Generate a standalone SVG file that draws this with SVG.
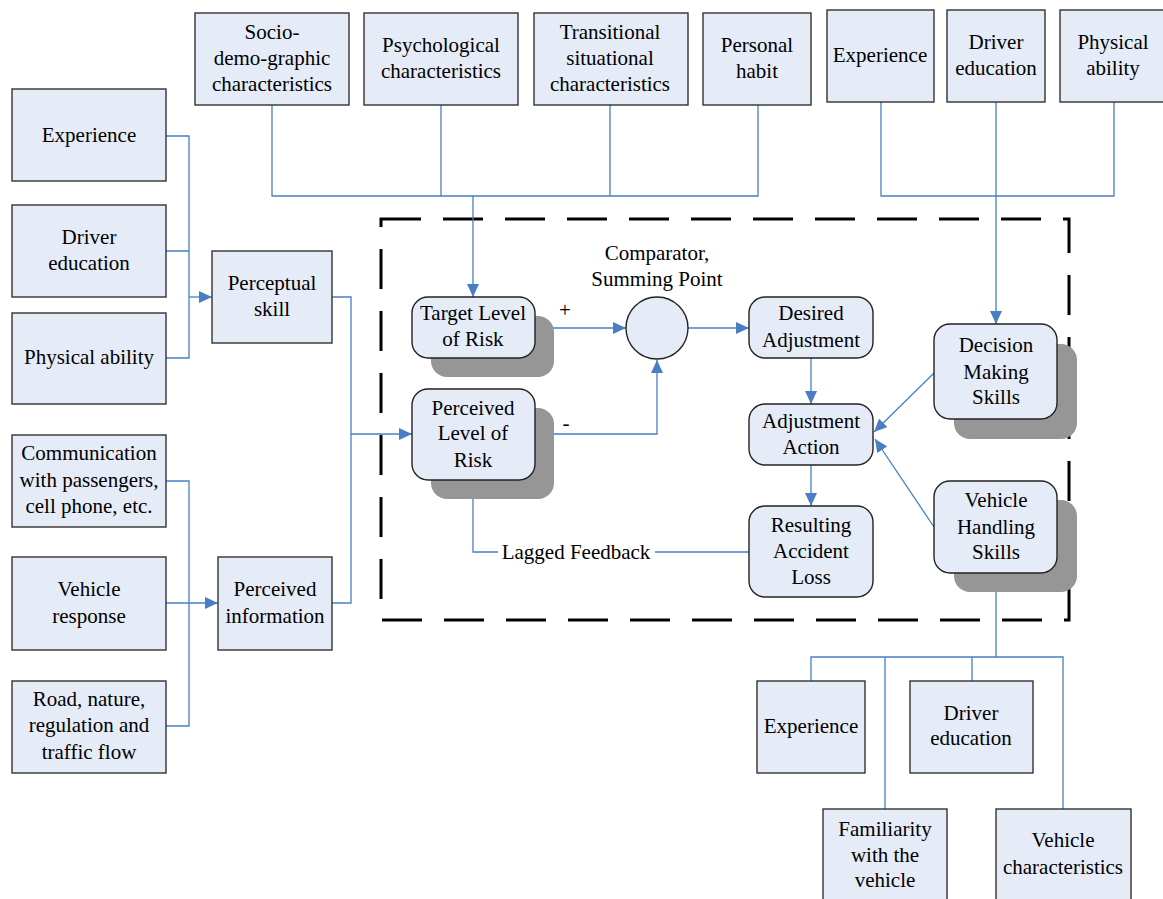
<svg xmlns="http://www.w3.org/2000/svg" width="1163" height="899" viewBox="0 0 1163 899" font-family="Liberation Serif, Times New Roman, serif">
<style>
text{font-size:21px;fill:#000;text-anchor:middle}
.box{fill:#E6ECF7;stroke:#333;stroke-width:1.4}
.rbox{fill:#E6ECF7;stroke:#222;stroke-width:1.4}
.sh{fill:#969696}
.c{fill:none;stroke:#4A7EC4;stroke-width:1.3}
.ca{fill:none;stroke:#4A7EC4;stroke-width:1.3;marker-end:url(#ah)}
.dash{fill:none;stroke:#000;stroke-width:3;stroke-dasharray:40 22}
</style>
<defs>
<marker id="ah" markerUnits="userSpaceOnUse" markerWidth="14" markerHeight="12" refX="13" refY="6" orient="auto">
<path d="M0,0 L13,6 L0,12 z" fill="#4A7EC4"/>
</marker>
</defs>
<rect x="0" y="0" width="1163" height="899" fill="#fff"/>

<rect class="dash" x="381" y="219" width="688" height="401"/>

<g id="connectors">
<path class="c" d="M272,105 V196 H758 V105 M441,105 V196 M610,105 V196"/>
<path class="ca" d="M473,196 V297"/>
<path class="c" d="M881,102 V196 H1114 V102"/>
<path class="ca" d="M996,102 V324"/>
<path class="c" d="M166,136 H189 V358 H166 M166,251 H189"/>
<path class="ca" d="M189,297 H212"/>
<path class="c" d="M166,481 H189 V726 H166"/>
<path class="ca" d="M166,603 H218"/>
<path class="c" d="M332,297 H351 V603 H332"/>
<path class="ca" d="M351,434 H412"/>
<path class="ca" d="M535,328 H626"/>
<path class="ca" d="M535,434 H657 V360"/>
<path class="ca" d="M688,328 H749"/>
<path class="ca" d="M811,358 V404"/>
<path class="ca" d="M811,465 V506"/>
<path class="c" d="M749,552 H655"/>
<path class="ca" d="M498,552 H473 V481"/>
<path class="ca" d="M934,373 L874,432"/>
<path class="ca" d="M934,527 L875,439"/>
<path class="ca" d="M996,657 V574"/>
<path class="c" d="M811,681 V657 H1063 V809 M972,657 V681 M885,657 V809"/>
<text x="565" y="317">+</text>
<text x="566" y="430">-</text>
<text x="576" y="559">Lagged Feedback</text>
</g>

<g id="socio"><rect class="box" x="195" y="13" width="154" height="92"/><text x="272" y="39">Socio-</text><text x="272" y="65">demo-graphic</text><text x="272" y="91">characteristics</text></g>
<g id="psych"><rect class="box" x="364" y="13" width="154" height="92"/><text x="441" y="52">Psychological</text><text x="441" y="78">characteristics</text></g>
<g id="trans"><rect class="box" x="534" y="13" width="154" height="92"/><text x="610" y="39">Transitional</text><text x="610" y="65">situational</text><text x="610" y="91">characteristics</text></g>
<g id="habit"><rect class="box" x="703" y="13" width="108" height="92"/><text x="757" y="52">Personal</text><text x="757" y="78">habit</text></g>

<g id="exp-top"><rect class="box" x="827" y="10" width="107" height="92"/><text x="880" y="62">Experience</text></g>
<g id="edu-top"><rect class="box" x="947" y="10" width="98" height="92"/><text x="996" y="49">Driver</text><text x="996" y="75">education</text></g>
<g id="phys-top"><rect class="box" x="1060" y="10" width="110" height="92"/><text x="1113" y="49">Physical</text><text x="1113" y="75">ability</text></g>

<g id="exp-left"><rect class="box" x="12" y="89" width="154" height="92"/><text x="89" y="142">Experience</text></g>
<g id="edu-left"><rect class="box" x="12" y="205" width="154" height="92"/><text x="89" y="244">Driver</text><text x="89" y="270">education</text></g>
<g id="phys-left"><rect class="box" x="12" y="313" width="154" height="91"/><text x="89" y="364">Physical ability</text></g>
<g id="perceptual"><rect class="box" x="212" y="251" width="120" height="92"/><text x="272" y="290">Perceptual</text><text x="272" y="316">skill</text></g>

<g id="comm"><rect class="box" x="12" y="435" width="154" height="92"/><text x="89" y="460">Communication</text><text x="89" y="487">with passengers,</text><text x="89" y="513">cell phone, etc.</text></g>
<g id="vresp"><rect class="box" x="12" y="557" width="154" height="93"/><text x="89" y="596">Vehicle</text><text x="89" y="623">response</text></g>
<g id="road"><rect class="box" x="12" y="681" width="154" height="92"/><text x="89" y="706">Road, nature,</text><text x="89" y="732">regulation and</text><text x="89" y="759">traffic flow</text></g>
<g id="perc-info"><rect class="box" x="218" y="557" width="114" height="93"/><text x="275" y="596">Perceived</text><text x="275" y="623">information</text></g>

<g id="target"><rect class="sh" x="431" y="316" width="123" height="61" rx="16"/><rect class="rbox" x="412" y="297" width="123" height="61" rx="16"/><text x="473" y="320">Target Level</text><text x="473" y="346">of Risk</text></g>
<g id="perceived-risk"><rect class="sh" x="431" y="408" width="123" height="91" rx="16"/><rect class="rbox" x="412" y="389" width="123" height="91" rx="16"/><text x="473" y="415">Perceived</text><text x="473" y="440">Level of</text><text x="473" y="467">Risk</text></g>
<g id="comparator"><circle class="rbox" cx="657" cy="328" r="31"/><text x="657" y="260">Comparator,</text><text x="657" y="286">Summing Point</text></g>
<g id="desired"><rect class="rbox" x="749" y="297" width="124" height="61" rx="16"/><text x="811" y="320">Desired</text><text x="811" y="347">Adjustment</text></g>
<g id="action"><rect class="rbox" x="749" y="404" width="124" height="61" rx="16"/><text x="811" y="428">Adjustment</text><text x="811" y="454">Action</text></g>
<g id="loss"><rect class="rbox" x="749" y="506" width="124" height="91" rx="16"/><text x="811" y="532">Resulting</text><text x="811" y="558">Accident</text><text x="811" y="584">Loss</text></g>
<g id="decision"><rect class="sh" x="954" y="344" width="123" height="95" rx="16"/><rect class="rbox" x="934" y="324" width="123" height="95" rx="16"/><text x="996" y="352">Decision</text><text x="996" y="379">Making</text><text x="996" y="404">Skills</text></g>
<g id="handling"><rect class="sh" x="954" y="500" width="123" height="92" rx="16"/><rect class="rbox" x="934" y="481" width="123" height="92" rx="16"/><text x="996" y="507">Vehicle</text><text x="996" y="534">Handling</text><text x="996" y="559">Skills</text></g>

<g id="exp-bot"><rect class="box" x="757" y="681" width="108" height="92"/><text x="811" y="733">Experience</text></g>
<g id="edu-bot"><rect class="box" x="910" y="681" width="123" height="92"/><text x="971" y="720">Driver</text><text x="971" y="745">education</text></g>
<g id="familiar"><rect class="box" x="823" y="809" width="124" height="100"/><text x="885" y="836">Familiarity</text><text x="885" y="862">with the</text><text x="885" y="887">vehicle</text></g>
<g id="vchar"><rect class="box" x="996" y="809" width="135" height="100"/><text x="1063" y="847">Vehicle</text><text x="1063" y="874">characteristics</text></g>
</svg>
